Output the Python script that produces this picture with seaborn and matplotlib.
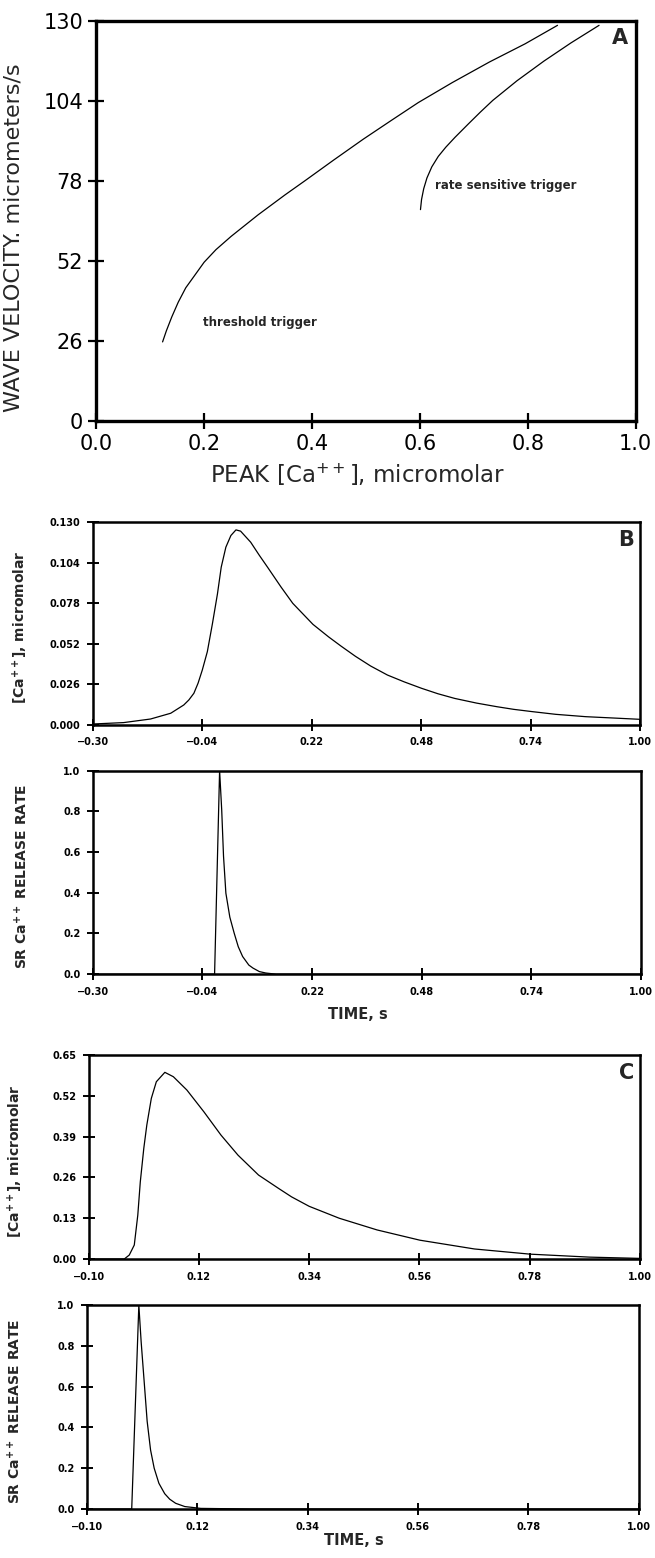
# Wave velocity vs peak Ca++ (A) and Ca++ transients / SR release rate (B, C)

import matplotlib
matplotlib.use("Agg")
import matplotlib.pyplot as plt
import seaborn as sns

# Panel A: wave velocity (micrometers/s) vs peak [Ca++] (micromolar)
threshold_ca = [0.123, 0.130, 0.140, 0.152, 0.166, 0.182, 0.200, 0.222, 0.250, 0.300, 0.350,
                0.387, 0.440, 0.495, 0.547, 0.597, 0.660, 0.729, 0.795, 0.855]
threshold_vel = [25.7, 29.3, 33.8, 38.6, 43.3, 47.2, 51.6, 55.7, 60.0, 67.0, 73.5,
                 78.1, 84.8, 91.6, 97.7, 103.5, 110.0, 116.7, 122.6, 128.6]
rate_ca = [0.601, 0.603, 0.607, 0.613, 0.622, 0.634, 0.648, 0.665, 0.690, 0.712, 0.735,
           0.780, 0.830, 0.880, 0.932]
rate_vel = [68.7, 72.0, 75.5, 79.0, 82.6, 86.0, 89.0, 92.2, 96.6, 100.4, 104.2,
            110.6, 117.0, 122.9, 128.6]
a_xticks = [0.0, 0.2, 0.4, 0.6, 0.8, 1.0]
a_yticks = [0, 26, 52, 78, 104, 130]

# Panel B: [Ca++] transient and SR release rate vs time (s)
b_time = [-0.300, -0.227, -0.163, -0.115, -0.084, -0.072, -0.060, -0.050, -0.040, -0.028,
          -0.016, -0.004, 0.005, 0.016, 0.028, 0.040, 0.051, 0.075, 0.095, 0.115, 0.147,
          0.175, 0.223, 0.260, 0.290, 0.324, 0.360, 0.400, 0.440, 0.481, 0.520, 0.560,
          0.612, 0.660, 0.700, 0.742, 0.800, 0.871, 0.940, 1.000]
b_ca = [0.0006, 0.0015, 0.0038, 0.0075, 0.0128, 0.0160, 0.0203, 0.0268, 0.0352, 0.0470,
        0.0648, 0.0840, 0.1012, 0.1140, 0.1215, 0.1251, 0.1243, 0.1172, 0.1090, 0.1012, 0.0885,
        0.0780, 0.0645, 0.0565, 0.0505, 0.0440, 0.0378, 0.0320, 0.0276, 0.0235, 0.0200, 0.0170,
        0.0140, 0.0117, 0.0100, 0.0086, 0.0068, 0.0053, 0.0044, 0.0036]
b_rel_time = [-0.300, -0.0112, 0.0007, 0.0057, 0.0100, 0.0156, 0.0250, 0.0354, 0.0450, 0.0553,
              0.0700, 0.0800, 0.0950, 0.1100, 0.1350, 1.000]
b_rel = [0.0, 0.0, 1.0, 0.807, 0.580, 0.398, 0.280, 0.201, 0.135, 0.087,
         0.045, 0.030, 0.013, 0.006, 0.0, 0.0]
b_xticks = [-0.30, -0.04, 0.22, 0.48, 0.74, 1.00]
b_ca_ticks = [0.000, 0.026, 0.052, 0.078, 0.104, 0.130]
rel_ticks = [0.0, 0.2, 0.4, 0.6, 0.8, 1.0]

# Panel C
c_time = [-0.100, -0.029, -0.019, -0.009, -0.002, 0.003, 0.010, 0.016, 0.025, 0.035, 0.052,
          0.069, 0.096, 0.130, 0.164, 0.198, 0.239, 0.279, 0.305, 0.340, 0.400, 0.4755, 0.561,
          0.670, 0.781, 0.900, 1.000]
c_ca = [0.0, 0.0, 0.0127, 0.0446, 0.140, 0.246, 0.353, 0.427, 0.512, 0.565, 0.595,
        0.581, 0.5385, 0.469, 0.395, 0.331, 0.2676, 0.225, 0.198, 0.168, 0.130, 0.0927, 0.0600,
        0.0320, 0.0155, 0.0060, 0.0020]
c_rel_time = [-0.100, -0.0108, 0.0034, 0.0080, 0.0143, 0.0200, 0.0268, 0.0340, 0.0434, 0.0550,
              0.0650, 0.0768, 0.0950, 0.127, 0.227, 1.000]
c_rel = [0.0, 0.0, 1.0, 0.820, 0.616, 0.430, 0.289, 0.200, 0.126, 0.075,
         0.048, 0.028, 0.012, 0.003, 0.0, 0.0]
c_xticks = [-0.10, 0.12, 0.34, 0.56, 0.78, 1.00]
c_ca_ticks = [0.00, 0.13, 0.26, 0.39, 0.52, 0.65]

sns.set_theme(style="white")
plt.rcParams['font.family'] = ['DejaVu Sans']
plt.rcParams['mathtext.fontset'] = 'dejavusans'


def fmt(v, nd):
    return f"{v:.{nd}f}".replace('-', '\u2212')


def frame(ax, spine_w, tick_len, tick_w, pad):
    for s in ax.spines.values():
        s.set_visible(True)
        s.set_linewidth(spine_w)
        s.set_color('black')
    ax.tick_params(direction='inout', length=tick_len, width=tick_w, pad=pad,
                   colors='black', bottom=True, left=True, top=False, right=False)


def curve(ax, x, y):
    sns.lineplot(x=x, y=y, ax=ax, color='black', linewidth=0.9, sort=False, estimator=None)


fig = plt.figure(figsize=(6.55, 15.58), dpi=100)

# ---- panel A
axA = fig.add_axes([0.1469, 0.7298, 0.8237, 0.2567])
curve(axA, threshold_ca, threshold_vel)
curve(axA, rate_ca, rate_vel)
axA.set_xlim(0, 1)
axA.set_ylim(0, 130)
axA.set_xticks(a_xticks)
axA.set_xticklabels([fmt(v, 1) for v in a_xticks], fontsize=15)
axA.set_yticks(a_yticks)
axA.set_yticklabels([str(v) for v in a_yticks], fontsize=15)
frame(axA, 2.4, 11, 1.6, 4)
axA.set_xlabel('PEAK [Ca$^{++}$], micromolar', fontsize=16.5)
axA.xaxis.set_label_coords(0.485, -0.102)
axA.set_ylabel('WAVE VELOCITY. micrometers/s', fontsize=16)
axA.yaxis.set_label_coords(-0.134, 0.459)
axA.text(0.198, 31.9, 'threshold trigger', fontsize=8.5, fontweight='bold', va='center')
axA.text(0.628, 76.6, 'rate sensitive trigger', fontsize=8.5, fontweight='bold', va='center')
axA.text(0.985, 0.982, 'A', transform=axA.transAxes, fontsize=15, fontweight='bold',
         ha='right', va='top')


def small_axes(rect, t, y, xt, yt, ynd, xlim, ylim, ylabel, letter=None, xlabel=None, xlab_y=None):
    ax = fig.add_axes(rect)
    curve(ax, t, y)
    ax.set_xlim(*xlim)
    ax.set_ylim(*ylim)
    ax.set_xticks(xt)
    ax.set_xticklabels([fmt(v, 2) for v in xt], fontsize=7, fontweight='bold')
    ax.set_yticks(yt)
    ax.set_yticklabels([fmt(v, ynd) for v in yt], fontsize=7, fontweight='bold')
    frame(ax, 1.8, 8, 1.4, 5)
    ax.set_ylabel(ylabel, fontsize=10, fontweight='bold')
    ax.yaxis.set_label_coords(-0.115, 0.48)
    if xlabel:
        ax.set_xlabel(xlabel, fontsize=10.5, fontweight='bold')
        ax.xaxis.set_label_coords(0.483, xlab_y)
    if letter:
        ax.text(0.99, 0.96, letter, transform=ax.transAxes, fontsize=15, fontweight='bold',
                ha='right', va='top')
    return ax


ca_label = '[Ca$^{\\mathbf{++}}$], micromolar'
rel_label = 'SR Ca$^{\\mathbf{++}}$ RELEASE RATE'

small_axes([0.1418, 0.5347, 0.8352, 0.1301], b_time, b_ca, b_xticks, b_ca_ticks, 3,
           (-0.30, 1.00), (0, 0.13), ca_label, letter='B')
small_axes([0.1418, 0.3747, 0.8364, 0.1307], b_rel_time, b_rel, b_xticks, rel_ticks, 1,
           (-0.30, 1.00), (0, 1.0), rel_label, xlabel='TIME, s', xlab_y=-0.16)
small_axes([0.1354, 0.1919, 0.8415, 0.1309], c_time, c_ca, c_xticks, c_ca_ticks, 2,
           (-0.10, 1.00), (0, 0.65), ca_label, letter='C')
small_axes([0.1328, 0.03145, 0.8422, 0.1309], c_rel_time, c_rel, c_xticks, rel_ticks, 1,
           (-0.10, 1.00), (0, 1.0), rel_label, xlabel='TIME, s', xlab_y=-0.12)

fig.savefig('out.png', dpi=100)
plt.close(fig)
